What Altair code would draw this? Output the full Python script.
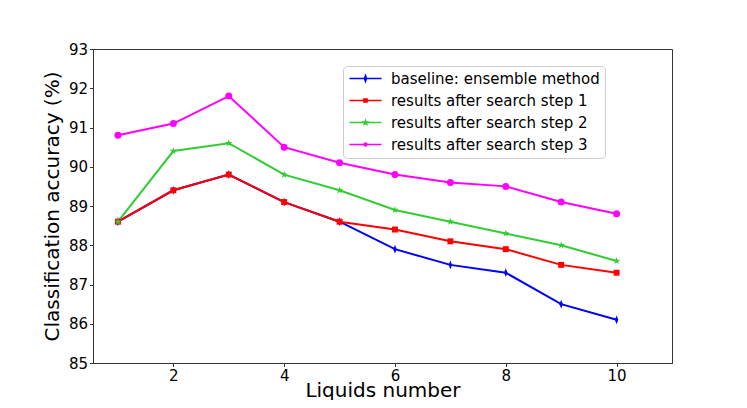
import math
import altair as alt
import pandas as pd

liquids = [1, 2, 3, 4, 5, 6, 7, 8, 9, 10]
baseline = [88.6, 89.4, 89.8, 89.1, 88.6, 87.9, 87.5, 87.3, 86.5, 86.1]
step1 = [88.6, 89.4, 89.8, 89.1, 88.6, 88.4, 88.1, 87.9, 87.5, 87.3]
step2 = [88.6, 90.4, 90.6, 89.8, 89.4, 88.9, 88.6, 88.3, 88.0, 87.6]
step3 = [90.8, 91.1, 91.8, 90.5, 90.1, 89.8, 89.6, 89.5, 89.1, 88.8]
series_names = [
    "baseline: ensemble method",
    "results after search step 1",
    "results after search step 2",
    "results after search step 3",
]
colors = ["#0000ff", "#ff0000", "#33cc33", "#ff00ff"]
x_ticks = [2, 4, 6, 8, 10]
y_ticks = [85, 86, 87, 88, 89, 90, 91, 92, 93]

rows = []
for name, vals in zip(series_names, [baseline, step1, step2, step3]):
    for xv, yv in zip(liquids, vals):
        rows.append({"liquids": xv, "acc": yv, "series": name})
df = pd.DataFrame(rows)


def star_path(scale, cx=0.0):
    pts = []
    for i in range(10):
        r = scale if i % 2 == 0 else scale * 0.4
        a = -math.pi / 2 + i * math.pi / 5
        pts.append((cx + r * math.cos(a), r * math.sin(a)))
    return "M" + "L".join(f"{px:.3f},{py:.3f}" for px, py in pts) + "Z"


def circle_path(r):
    return f"M{-r},0A{r},{r} 0 1,1 {r},0A{r},{r} 0 1,1 {-r},0Z"


# markers on the plot (coordinates in [-1,1] units)
plot_shapes = [
    "M0,-1.25L0.5,0L0,1.25L-0.5,0Z",
    "M-0.85,-0.85H0.85V0.85H-0.85Z",
    star_path(1.1),
    "circle",
]

# legend symbols: a line with the marker on it
L = 3.2
bar = f"M{-L},0H{L}"
legend_shapes = [
    bar + "M0,-0.6L0.2,0L0,0.6L-0.2,0Z",
    bar + "M-0.32,-0.32H0.32V0.32H-0.32Z",
    bar + star_path(0.4),
    bar + circle_path(0.3),
]

FONT = "DejaVu Sans"

xscale = alt.Scale(domain=[0.55, 11.0], nice=False, zero=False)
yscale = alt.Scale(domain=[85, 93], nice=False, zero=False)
cscale = alt.Scale(domain=series_names, range=colors)

x_enc = alt.X(
    "liquids:Q",
    scale=xscale,
    axis=alt.Axis(
        values=x_ticks,
        title="Liquids number",
        format="d",
        labelOverlap=False,
        titleBaseline="alphabetic",
        titleY=33,
    ),
)
y_enc = alt.Y(
    "acc:Q",
    scale=yscale,
    axis=alt.Axis(values=y_ticks, title="Classification accuracy (%)", format="d", labelOverlap=False),
)

base = alt.Chart(df)

leg = alt.Legend(
    title=None,
    orient="none",
    legendX=250,
    legendY=17,
    labelFont=FONT,
    labelFontSize=15,
    labelColor="black",
    labelOffset=18,
    labelLimit=400,
    symbolSize=100,
    symbolOffset=10,
    symbolOpacity=1,
    rowPadding=6,
    padding=5,
    strokeColor="#cccccc",
    fillColor="white",
    cornerRadius=4,
)

legend_layer = base.mark_point(filled=True, size=100, strokeWidth=0, opacity=0).encode(
    color=alt.Color("series:N", scale=cscale, legend=leg),
    shape=alt.Shape(
        "series:N",
        scale=alt.Scale(domain=series_names, range=legend_shapes),
        legend=leg,
    ),
)

lines = base.mark_line(strokeWidth=2).encode(
    color=alt.Color("series:N", scale=cscale, legend=leg),
    detail="series:N",
)

point_layers = []
for name, shp in zip(series_names, plot_shapes):
    point_layers.append(
        base.transform_filter(alt.datum.series == name)
        .mark_point(filled=True, size=49, opacity=1, shape=shp)
        .encode(color=alt.Color("series:N", scale=cscale, legend=leg))
    )

chart = (
    alt.layer(legend_layer, lines, *point_layers)
    .encode(x=x_enc, y=y_enc)
    .properties(
        width=579,
        height=314,
        autosize=alt.AutoSizeParams(type="none"),
        padding={"left": 85, "top": 41, "right": 60, "bottom": 37},
    )
    .configure_view(stroke="#333333", strokeWidth=1)
    .configure_axis(
        labelFont=FONT,
        labelFontSize=15,
        labelColor="black",
        titleFont=FONT,
        titleFontSize=20,
        titleFontWeight="normal",
        titleColor="black",
        domainColor="#333333",
        tickColor="#333333",
        tickSize=3.5,
        labelPadding=2,
        grid=False,
    )
    .configure_axisY(titlePadding=6)
)

chart.save("out.html", embed_options={"renderer": "svg", "actions": False})
